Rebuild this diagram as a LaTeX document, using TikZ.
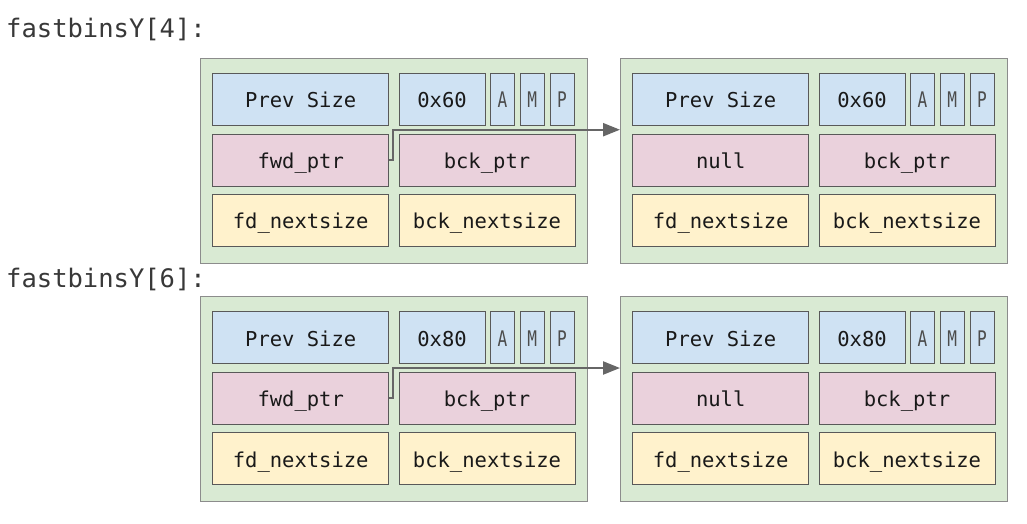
\documentclass[tikz,border=0pt]{standalone}
\usepackage{fontspec}
\setmainfont{DejaVu Sans Mono}
\usetikzlibrary{arrows.meta,calc}

\definecolor{chunkgreen}{HTML}{D9EAD3}
\definecolor{hdrblue}{HTML}{CFE2F3}
\definecolor{ptrpink}{HTML}{EAD1DC}
\definecolor{nxtyellow}{HTML}{FFF2CC}
\definecolor{edgegray}{HTML}{595959}

\tikzset{
  field/.style={draw=edgegray, line width=0.9pt, inner sep=0pt, outer sep=0pt,
    anchor=north west, minimum height=52pt, text=black!90,
    text height=16.5pt, text depth=0pt,
    font=\fontsize{20.5}{20.5}\selectfont},
  wide/.style={field, minimum width=176pt},
  bit/.style={field, fill=hdrblue, minimum width=24pt, text=black!70,
    font=\fontsize{21.5}{21.5}\selectfont},
  outerbox/.style={draw=black!45, line width=0.9pt, fill=chunkgreen, inner sep=0pt,
    outer sep=0pt, anchor=north west, minimum width=387pt, minimum height=204.5pt},
  binlabel/.style={anchor=base west, inner sep=0pt, text=black!78,
    font=\fontsize{25.5}{25.5}\selectfont},
  ptr/.style={draw=black!60, line width=2.3pt, -{Triangle[length=17pt,width=13pt]}}
}
\newcommand{\flag}[1]{\scalebox{0.75}[1]{#1}}

\begin{document}
\begin{tikzpicture}[x=1pt, y=-1pt]
  \useasboundingbox (0,0) rectangle (1027,523);
  % bin labels
  \node[binlabel] (lab4) at (6,37.3) {fastbinsY[4]:};
  \node[binlabel] (lab6) at (6,287.3) {fastbinsY[6]:};
  % two bins, each with two chunks
  \foreach \b/\y/\sz in {4/58.5/0x60, 6/296.8/0x80} {
    \foreach \c/\x/\fd in {1/200/fwd\_ptr, 2/620/null} {
      \node[outerbox] (o\b\c) at (\x,\y) {};
      \node[wide, fill=hdrblue] (prev\b\c) at (\x+12.7,\y+15) {Prev Size};
      \node[field, fill=hdrblue, minimum width=86pt] (size\b\c) at (\x+199,\y+15) {\sz};
      \node[bit] (a\b\c) at (\x+290.5,\y+15) {\flag{A}};
      \node[bit] (m\b\c) at (\x+320.3,\y+15) {\flag{M}};
      \node[bit] (p\b\c) at (\x+350,\y+15) {\flag{P}};
      \node[wide, fill=ptrpink] (fd\b\c) at (\x+12.7,\y+75.5) {\fd};
      \node[wide, fill=ptrpink] (bk\b\c) at (\x+199,\y+75.5) {bck\_ptr};
      \node[wide, fill=nxtyellow] (fdn\b\c) at (\x+12.7,\y+136) {fd\_nextsize};
      \node[wide, fill=nxtyellow] (bkn\b\c) at (\x+199,\y+136) {bck\_nextsize};
    }
    % forward pointer to the next chunk
    \draw[ptr] (fd\b1.east) -- ++(4,0) |- ([yshift=4.3pt]fd\b1.north -| o\b2.west);
  }
\end{tikzpicture}
\end{document}
